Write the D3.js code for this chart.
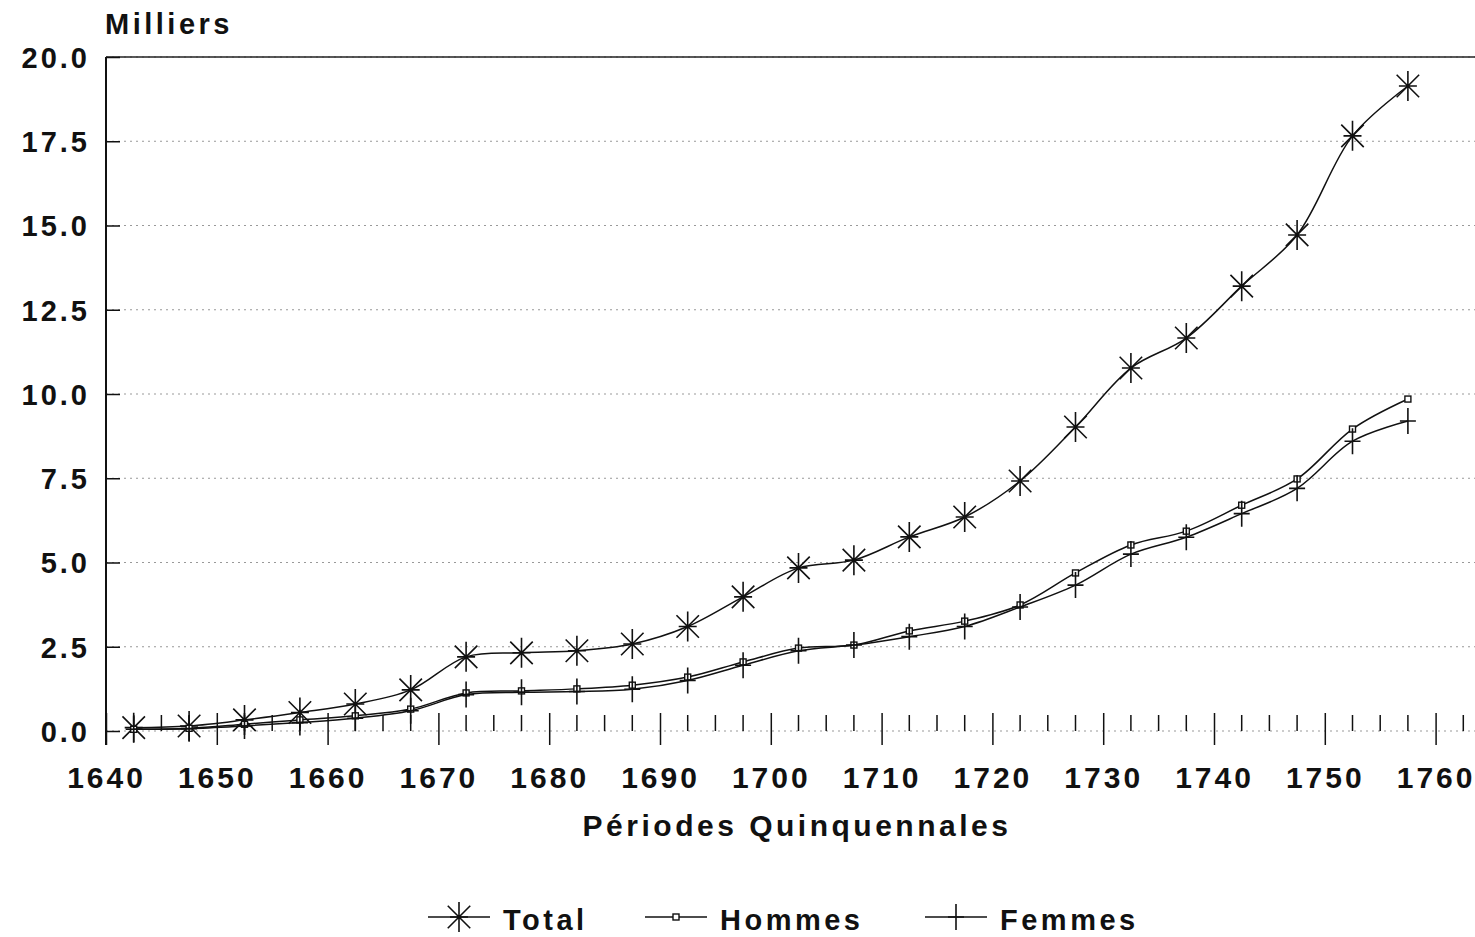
<!DOCTYPE html>
<html>
<head>
<meta charset="utf-8">
<script src="https://cdn.jsdelivr.net/npm/d3@7"></script>
<style>
  body { margin: 0; background: #fff; }
  text { font-family: "Liberation Sans", Arial, sans-serif; font-weight: bold; fill: #111; }
</style>
</head>
<body>
<svg id="chart" width="1475" height="937"></svg>
<script>
//Periods (middle of each five-year period)
var periods = [1642.5, 1647.5, 1652.5, 1657.5, 1662.5, 1667.5, 1672.5, 1677.5, 1682.5, 1687.5, 1692.5, 1697.5,
               1702.5, 1707.5, 1712.5, 1717.5, 1722.5, 1727.5, 1732.5, 1737.5, 1742.5, 1747.5, 1752.5, 1757.5];

//Values in thousands
var total = [0.10, 0.15, 0.33, 0.55, 0.80, 1.22, 2.20, 2.32, 2.38, 2.58, 3.10, 3.98,
             4.84, 5.07, 5.76, 6.35, 7.42, 9.02, 10.77, 11.66, 13.20, 14.72, 17.66, 19.14];
var hommes = [0.05, 0.08, 0.20, 0.33, 0.45, 0.65, 1.13, 1.19, 1.25, 1.36, 1.60, 2.05,
              2.46, 2.55, 2.97, 3.26, 3.74, 4.69, 5.52, 5.93, 6.70, 7.48, 8.96, 9.85];
var femmes = [0.05, 0.07, 0.15, 0.25, 0.38, 0.60, 1.08, 1.15, 1.17, 1.24, 1.50, 1.95,
              2.38, 2.55, 2.80, 3.10, 3.68, 4.33, 5.25, 5.75, 6.45, 7.20, 8.60, 9.20];

var yTicks = [0, 2.5, 5, 7.5, 10, 12.5, 15, 17.5, 20];
var xTicks = [1640, 1650, 1660, 1670, 1680, 1690, 1700, 1710, 1720, 1730, 1740, 1750, 1760];

var svg = d3.select("svg#chart");
var plotLeft = 106, plotTop = 57, plotBottom = 731, plotRight = 1491;

var x = d3.scaleLinear().domain([1640, 1765]).range([plotLeft, plotRight]);
var y = d3.scaleLinear().domain([0, 20]).range([plotBottom, plotTop]);

//Dotted horizontal grid lines
svg.append("g")
  .selectAll("line")
  .data(yTicks)
  .enter().append("line")
    .attr("x1", plotLeft).attr("x2", 1475)
    .attr("y1", function (d) { return y(d); })
    .attr("y2", function (d) { return y(d); })
    .attr("stroke", "#999")
    .attr("stroke-width", 1)
    .attr("stroke-dasharray", "2,4");

//Top border
svg.append("line")
  .attr("x1", plotLeft).attr("x2", 1475)
  .attr("y1", y(20)).attr("y2", y(20))
  .attr("stroke", "#222").attr("stroke-width", 1.5);

//Y axis
var yAxis = svg.append("g")
  .attr("transform", "translate(" + plotLeft + ",0)")
  .call(d3.axisLeft(y).tickValues(yTicks).tickSizeInner(-14).tickSizeOuter(0).tickPadding(16)
        .tickFormat(d3.format(".1f")));
yAxis.select(".domain").remove();
yAxis.selectAll(".tick line").attr("stroke", "#111").attr("stroke-width", 1.5);
yAxis.selectAll(".tick text")
  .style("font-size", "29px")
  .style("letter-spacing", "3px")
  .attr("dy", "0.36em");
svg.append("line")
  .attr("x1", plotLeft).attr("x2", plotLeft)
  .attr("y1", plotTop).attr("y2", plotBottom + 14)
  .attr("stroke", "#111").attr("stroke-width", 2);

//X axis: minor ticks every 2.5 years, major every 10 years
var minor = d3.range(1642.5, 1765, 2.5).filter(function (d) { return d % 10 != 0; });
svg.append("g")
  .selectAll("line")
  .data(minor)
  .enter().append("line")
    .attr("x1", function (d) { return x(d); })
    .attr("x2", function (d) { return x(d); })
    .attr("y1", plotBottom - 16).attr("y2", plotBottom)
    .attr("stroke", "#111").attr("stroke-width", 1.5);

var xAxis = svg.append("g")
  .attr("transform", "translate(0," + plotBottom + ")")
  .call(d3.axisBottom(x).tickValues(xTicks).tickSizeInner(14).tickSizeOuter(0).tickPadding(22)
        .tickFormat(d3.format("d")));
xAxis.select(".domain").remove();
xAxis.selectAll(".tick line").attr("y1", -18).attr("stroke", "#111").attr("stroke-width", 1.5);
xAxis.selectAll(".tick text")
  .style("font-size", "30px")
  .style("letter-spacing", "3px");

//Axis titles
svg.append("text")
  .attr("x", 105).attr("y", 34)
  .style("font-size", "29px")
  .style("letter-spacing", "3.5px")
  .text("Milliers");

svg.append("text")
  .attr("x", 797).attr("y", 836)
  .attr("text-anchor", "middle")
  .style("font-size", "30px")
  .style("letter-spacing", "3.5px")
  .text("Périodes Quinquennales");

//Lines
var line = d3.line()
  .x(function (d) { return x(d[0]); })
  .y(function (d) { return y(d[1]); })
  .curve(d3.curveCatmullRom.alpha(0.5));

var series = [
  { name: "Total", values: total, marker: "star" },
  { name: "Hommes", values: hommes, marker: "square" },
  { name: "Femmes", values: femmes, marker: "cross" }
];

//Draws a marker into a group centred at (0,0)
function drawMarker(g, type) {
  if (type == "star") {
    var r = 15, d = r * 0.75;
    g.append("path")
      .attr("d", "M0," + (-r) + "V" + r + "M" + (-d) + "," + (-d) + "L" + d + "," + d +
                 "M" + (-d) + "," + d + "L" + d + "," + (-d) + "M" + (-9) + ",0H9")
      .attr("stroke", "#111").attr("stroke-width", 1.6).attr("fill", "none");
  } else if (type == "square") {
    g.append("rect")
      .attr("x", -3).attr("y", -3).attr("width", 6).attr("height", 6)
      .attr("fill", "#fff").attr("stroke", "#111").attr("stroke-width", 1.4);
  } else {
    g.append("path")
      .attr("d", "M0,-13V13M-8,0H8")
      .attr("stroke", "#111").attr("stroke-width", 1.6).attr("fill", "none");
  }
}

series.forEach(function (s) {
  var pts = periods.map(function (p, i) { return [p, s.values[i]]; });
  svg.append("path")
    .datum(pts)
    .attr("d", line)
    .attr("fill", "none")
    .attr("stroke", "#111")
    .attr("stroke-width", 1.5);

  svg.append("g")
    .selectAll("g")
    .data(pts)
    .enter().append("g")
      .attr("transform", function (d) { return "translate(" + x(d[0]) + "," + y(d[1]) + ")"; })
      .each(function () { drawMarker(d3.select(this), s.marker); });
});

//Legend
var legendX = [428, 645, 925];
var legend = svg.append("g");
series.forEach(function (s, i) {
  var g = legend.append("g").attr("transform", "translate(" + legendX[i] + ",917)");
  g.append("line").attr("x1", 0).attr("x2", 62).attr("y1", 0).attr("y2", 0)
    .attr("stroke", "#111").attr("stroke-width", 1.5);
  drawMarker(g.append("g").attr("transform", "translate(31,0)"), s.marker);
  g.append("text")
    .attr("x", 75).attr("y", 13)
    .style("font-size", "29px")
    .style("letter-spacing", "3.5px")
    .text(s.name);
});
</script>
</body>
</html>
